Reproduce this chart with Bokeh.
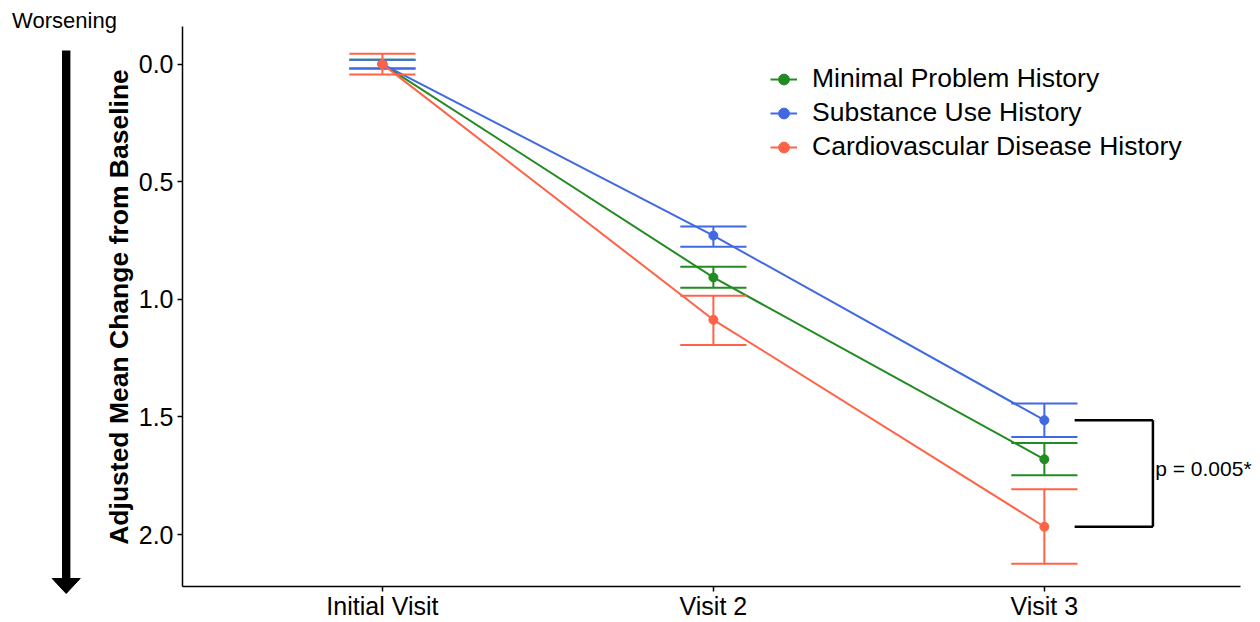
import math
from bokeh.plotting import figure
from bokeh.models import Range1d, FixedTicker, NumeralTickFormatter, Legend, LegendItem, Label
from bokeh.layouts import row
from bokeh.embed import file_html
from bokeh.resources import INLINE
from bokeh.core.properties import value

# ---------------- data ----------------
visits = ["Initial Visit", "Visit 2", "Visit 3"]
groups = ["Minimal Problem History", "Substance Use History", "Cardiovascular Disease History"]
colors = ["#228B22", "#4169E1", "#FF6347"]

minimal_mean = [0.0, 0.907, 1.680]
minimal_lower = [-0.019, 0.862, 1.611]
minimal_upper = [0.019, 0.951, 1.748]

substance_mean = [0.0, 0.729, 1.514]
substance_lower = [-0.019, 0.690, 1.443]
substance_upper = [0.019, 0.776, 1.585]

cardio_mean = [0.0, 1.087, 1.967]
cardio_lower = [-0.044, 0.985, 1.808]
cardio_upper = [0.044, 1.194, 2.124]

y_ticks = [0.0, 0.5, 1.0, 1.5, 2.0]
p_value_text = "p = 0.005*"
y_title = "Adjusted Mean Change from Baseline"
arrow_text = "Worsening"

FONT = "Liberation Sans"

x_pos = [i + 1 for i in range(len(visits))]
series = [
    (groups[0], colors[0], minimal_mean, minimal_lower, minimal_upper),
    (groups[1], colors[1], substance_mean, substance_lower, substance_upper),
    (groups[2], colors[2], cardio_mean, cardio_lower, cardio_upper),
]

H = 622
LEFT_W = 135

# ---------------- main plot ----------------
main = figure(width=1260 - LEFT_W, height=H,
              x_range=Range1d(0.396, 3.647), y_range=Range1d(2.221, -0.160),
              output_backend="svg", toolbar_location=None, frame_align=False,
              min_border_left=47, min_border_right=2, min_border_top=26, min_border_bottom=34)
main.grid.visible = False
main.outline_line_color = None
main.background_fill_color = "white"

cap = 0.1
items = []
for name, col, m, lo, hi in series:
    lr = main.line(x_pos, m, line_color=col, line_width=2)
    main.segment(x0=x_pos, y0=lo, x1=x_pos, y1=hi, line_color=col, line_width=2)
    main.segment(x0=[x - cap for x in x_pos], y0=lo, x1=[x + cap for x in x_pos], y1=lo,
                 line_color=col, line_width=2)
    main.segment(x0=[x - cap for x in x_pos], y0=hi, x1=[x + cap for x in x_pos], y1=hi,
                 line_color=col, line_width=2)
    sr = main.scatter(x_pos, m, size=9, fill_color=col, line_color=col)
    items.append(LegendItem(label=name, renderers=[lr, sr]))

# significance bracket between substance and cardio at last visit
last = x_pos[-1]
b_x0, b_x1 = last + 0.0915, last + 0.328
y_a, y_b = substance_mean[-1], cardio_mean[-1]
main.segment(x0=[b_x0, b_x0, b_x1], y0=[y_a, y_b, y_a], x1=[b_x1, b_x1, b_x1], y1=[y_a, y_b, y_b],
             line_color="black", line_width=2.5)
main.add_layout(Label(x=b_x1 + 0.007, y=(y_a + y_b) / 2 - 0.022, text=p_value_text,
                      text_font=FONT, text_font_size="21px", text_color="black",
                      text_baseline="middle", text_align="left"))

legend = Legend(items=items, location=(588, 424), padding=0, spacing=3,
                glyph_width=27, glyph_height=30, label_height=30, label_standoff=15,
                label_text_font=FONT, label_text_font_size="26.5px", label_text_color="black",
                border_line_color=None, background_fill_alpha=0)
main.add_layout(legend)

for ax in (main.xaxis[0], main.yaxis[0]):
    ax.axis_line_color = "black"
    ax.axis_line_width = 1.5
    ax.major_tick_line_color = "black"
    ax.major_tick_line_width = 1.5
    ax.major_tick_in = 0
    ax.major_tick_out = 5
    ax.minor_tick_line_color = None
    ax.major_label_text_font = FONT
    ax.major_label_text_font_size = "25px"
    ax.major_label_text_color = "black"

main.xaxis.major_label_standoff = 0
main.yaxis.major_label_standoff = 4
main.xaxis.bounds = (0.396, 3.592)
main.xaxis.ticker = FixedTicker(ticks=x_pos)
main.xaxis.major_label_overrides = {x: v for x, v in zip(x_pos, visits)}
main.yaxis.ticker = FixedTicker(ticks=y_ticks)
main.yaxis.formatter = NumeralTickFormatter(format="0.0")

# ---------------- left panel: arrow + titles ----------------
left = figure(width=LEFT_W, height=H, x_range=Range1d(0, LEFT_W), y_range=Range1d(0, H),
              output_backend="svg", toolbar_location=None, min_border=0, frame_align=False,
              x_axis_type=None, y_axis_type=None)
left.grid.visible = False
left.outline_line_color = None

cx = 65.7
left.quad(left=[cx - 4.2], right=[cx + 4.2], bottom=[42], top=[572], fill_color="black", line_color=None)
left.patch([cx - 14, cx + 14, cx], [44, 44, 29], fill_color="black", line_color="black")
left.text(x=[64], y=[602], text=[arrow_text], text_font=value(FONT), text_font_size="22px",
          text_align="center", text_baseline="middle", text_color="black")
left.text(x=[118], y=[315.5], text=[y_title], angle=math.pi / 2, text_font=value(FONT),
          text_font_size="26.5px", text_font_style="bold",
          text_align="center", text_baseline="middle", text_color="black")

layout = row(left, main)
open("out.html", "w").write(file_html(layout, INLINE))
